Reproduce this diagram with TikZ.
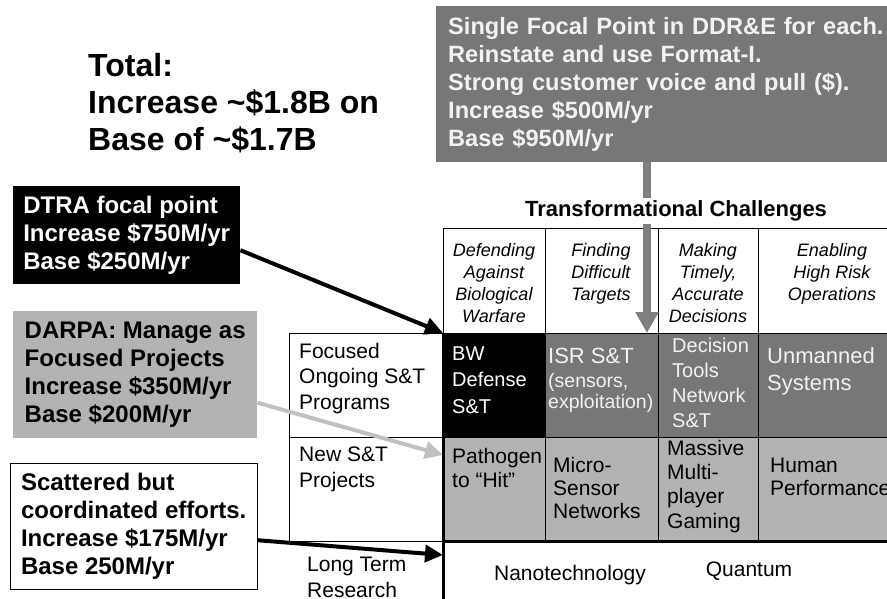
\documentclass[tikz,border=0pt]{standalone}
\usepackage{fontspec}
\setmainfont{Liberation Sans}
\usetikzlibrary{arrows.meta}
\definecolor{darkgrey}{HTML}{777777}
\definecolor{midgrey}{HTML}{B3B3B3}
\definecolor{lightgrey}{HTML}{C0C0C0}
\definecolor{arrowgrey}{HTML}{7F7F7F}
\definecolor{paletext}{HTML}{F2F2F2}

\begin{document}
\begin{tikzpicture}[x=1pt,y=-1pt,
	> = {Triangle[length=18pt,width=17pt]}, % arrow head style
	every node/.style={inner sep=0pt},
	callout/.style={anchor=north west, inner xsep=10pt, align=left,
		font=\fontsize{24}{28}\selectfont\bfseries},
	cell/.style={draw, anchor=north west, minimum height=104},
	heading/.style={anchor=base, align=center, font=\fontsize{18}{22}\selectfont\itshape},
	celltext/.style={anchor=base west, align=left, font=\fontsize{20}{24}\selectfont},
	rowname/.style={anchor=base west, align=left, font=\fontsize{21}{25.5}\selectfont}]
	\useasboundingbox (0,0) rectangle (887,598);

	% totals and callouts (multi-line texts: base = last line)
	\node[anchor=base west, align=left, font=\fontsize{32}{37}\selectfont\bfseries] (total) at (88,150)
		{Total:\\Increase \textasciitilde\$1.8B on\\Base of \textasciitilde\$1.7B};
	\node[callout, fill=darkgrey, text=paletext, text width=446, inner xsep=12pt, minimum height=156,
		font=\fontsize{23.6}{28}\selectfont\bfseries] (ddre) at (436,6)
		{Single Focal Point in DDR\&E for each.\\Reinstate and use Format-I.\\Strong customer voice and pull (\$).\\Increase \$500M/yr\\Base \$950M/yr};
	\node[callout, fill=black, text=white, minimum width=227, minimum height=98] (dtra) at (13,186)
		{DTRA focal point\\Increase \$750M/yr\\Base \$250M/yr};
	\node[callout, fill=midgrey, minimum width=244, minimum height=127] (darpa) at (13,311)
		{DARPA: Manage as\\Focused Projects\\Increase \$350M/yr\\Base \$200M/yr};
	\node[callout, draw, fill=white, minimum width=247, minimum height=126] (scatter) at (10,463)
		{Scattered but\\coordinated efforts.\\Increase \$175M/yr\\Base 250M/yr};

	% table: header row
	\node[cell, minimum width=102, minimum height=105] (hbio) at (443,228) {};
	\node[cell, minimum width=113, minimum height=105] (hfind) at (545,228) {};
	\node[cell, minimum width=100, minimum height=105] (hdec) at (658,228) {};
	\node[cell, minimum width=150, minimum height=105] (hrisk) at (758,228) {};
	% focused row
	\node[cell, fill=black, minimum width=102] (bw) at (443,333) {};
	\node[cell, fill=darkgrey, minimum width=113] (isr) at (545,333) {};
	\node[cell, fill=darkgrey, minimum width=100] (dtools) at (658,333) {};
	\node[cell, fill=darkgrey, minimum width=150] (unman) at (758,333) {};
	% new projects row
	\node[cell, fill=midgrey, minimum width=102] (patho) at (443,437) {};
	\node[cell, fill=midgrey, minimum width=113] (micro) at (545,437) {};
	\node[cell, fill=midgrey, minimum width=100] (massive) at (658,437) {};
	\node[cell, fill=midgrey, minimum width=150] (human) at (758,437) {};
	% long term row
	\node[anchor=north west, minimum width=465, minimum height=70] (longterm) at (443,541) {};
	\draw[line width=3pt] (longterm.north east) -- (longterm.north west) -- (longterm.south west);
	\draw[line width=3pt] (bw.north west) -- (longterm.north west);
	% row names
	\node[cell, minimum width=154] (focus) at (289,333) {};
	\node[cell, minimum width=154] (newst) at (289,437) {};

	% texts
	\node[heading] (tbio) at (494,322) {Defending\\Against\\Biological\\Warfare};
	\node[heading] (tfind) at (601,300) {Finding\\Difficult\\Targets};
	\node[heading] (tdec) at (708,322) {Making\\Timely,\\Accurate\\Decisions};
	\node[heading] (trisk) at (832,300) {Enabling\\High Risk\\Operations};

	\node[celltext, text=white, font=\fontsize{20}{26.5}\selectfont] (tbw) at (452,413) {BW\\Defense\\S\&T};
	\node[celltext, text=paletext, font=\fontsize{22}{24}\selectfont] (tisr) at (548,363) {ISR S\&T};
	\node[celltext, text=paletext, font=\fontsize{19.5}{21}\selectfont] (tsens) at (548,408) {(sensors,\\exploitation)};
	\node[celltext, text=paletext, font=\fontsize{20}{24.7}\selectfont] (ttools) at (672,427) {Decision\\Tools\\Network\\S\&T};
	\node[celltext, text=paletext, font=\fontsize{22}{27}\selectfont] (tunman) at (767,390) {Unmanned\\Systems};

	\node[celltext, font=\fontsize{21}{24}\selectfont] (tpatho) at (452,487) {Pathogen\\to “Hit”};
	\node[celltext, font=\fontsize{21}{23}\selectfont] (tmicro) at (553,518) {Micro-\\Sensor\\Networks};
	\node[celltext, font=\fontsize{21}{24.3}\selectfont] (tmassive) at (667,528) {Massive\\Multi-\\player\\Gaming};
	\node[celltext, font=\fontsize{21}{23}\selectfont] (thuman) at (770,495) {Human\\Performance};

	\node[font=\fontsize{21}{24}\selectfont] (tnano) at (570,575) {Nanotechnology};
	\node[font=\fontsize{21}{24}\selectfont] (tquant) at (749,571) {Quantum};

	\node[rowname] (tfocus) at (299,409) {Focused\\Ongoing S\&T\\Programs};
	\node[rowname] (tnew) at (299,487) {New S\&T\\Projects};
	\node[rowname] (tlong) at (307,597) {Long Term\\Research};

	% connectors
	\coordinate (drop) at (647,333);
	\draw[->, arrowgrey, line width=8pt, >={Triangle[length=21pt,width=22pt]}] (ddre.south -| drop) -- (drop);
	\node[fill=white, inner sep=3pt, font=\fontsize{22}{26}\selectfont\bfseries] (title) at (676,211) {Transformational Challenges};

	\draw[->, line width=4pt] ([yshift=-15pt]dtra.east) -- (bw.north west);
	\draw[->, lightgrey, line width=4pt] ([yshift=-28pt]darpa.east) -- ([yshift=-18pt]patho.north west);
	\draw[->, line width=4pt] ([yshift=-14pt]scatter.east) -- ([yshift=-14pt]longterm.north west);

\end{tikzpicture}
\end{document}
